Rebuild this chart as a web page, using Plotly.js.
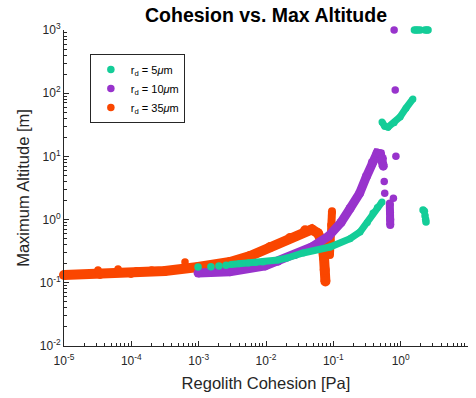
<!DOCTYPE html>
<html>
<head>
<meta charset="utf-8">
<script src="https://cdn.plot.ly/plotly-3.0.1.min.js"></script>
<style>html,body{margin:0;padding:0;background:#fff;}#chart{width:476px;height:398px;}</style>
</head>
<body>
<div id="chart"></div>
<script>
// ---- data ----
const seriesNames = ['r<sub>d</sub> = 5<i>μ</i>m', 'r<sub>d</sub> = 10<i>μ</i>m', 'r<sub>d</sub> = 35<i>μ</i>m'];
const xTickVals = [1e-5, 1e-4, 1e-3, 1e-2, 1e-1, 1, 10];
const xTickText = ['10<sup>-5</sup>', '10<sup>-4</sup>', '10<sup>-3</sup>', '10<sup>-2</sup>', '10<sup>-1</sup>', '10<sup>0</sup>', '10<sup>1</sup>'];
const yTickVals = [1e-2, 1e-1, 1, 10, 100, 1000];
const yTickText = ['10<sup>-2</sup>', '10<sup>-1</sup>', '10<sup>0</sup>', '10<sup>1</sup>', '10<sup>2</sup>', '10<sup>3</sup>'];

// r_d = 5 um : main curve
const g5_x = [0.0030, 0.0040, 0.0055, 0.0070, 0.0090, 0.0151, 0.0206, 0.0355, 0.0893, 0.177, 0.249, 0.32, 0.388, 0.45, 0.528];
const g5_y = [0.195, 0.200, 0.205, 0.209, 0.213, 0.230, 0.247, 0.296, 0.368, 0.50, 0.637, 0.90, 1.27, 1.55, 1.90];
// r_d = 5 um : upper branch
const g5b_x = [0.528, 0.58, 0.65, 0.80, 0.98, 1.2, 1.52];
const g5b_y = [35, 30, 29, 34, 42, 58, 81];
// r_d = 5 um : scattered points
const g5s_x = [0.00098, 0.00152, 0.0020, 0.00255, 1.6, 1.7, 1.8, 1.95, 2.3, 2.45, 2.55, 2.15, 2.25, 2.3, 2.35, 2.38];
const g5s_y = [0.178, 0.180, 0.185, 0.190, 1000, 1000, 1000, 1000, 1000, 1000, 1000, 1.42, 1.35, 1.15, 1.0, 0.92];

// r_d = 10 um : main curve
const p10_x = [0.00098, 0.0029, 0.0097, 0.0151, 0.0270, 0.0480, 0.0855, 0.130, 0.177, 0.245, 0.31, 0.38, 0.446, 0.50, 0.535, 0.552];
const p10_y = [0.143, 0.150, 0.185, 0.220, 0.280, 0.368, 0.55, 0.90, 1.50, 2.60, 4.8, 8.0, 11.3, 11.0, 9.3, 7.0];
// r_d = 10 um : vertical cluster
const p10b_x = [0.69, 0.695, 0.70, 0.70];
const p10b_y = [1.80, 1.30, 1.00, 0.82];
// r_d = 10 um : scattered points
const p10s_x = [0.57, 0.58, 0.78, 0.85, 0.83, 0.80];
const p10s_y = [4.0, 2.6, 2.17, 10.1, 112, 1000];

// r_d = 35 um : main curve
const o35_x = [1e-5, 3.43e-5, 9.9e-5, 3.16e-4, 9.8e-4, 0.00292, 0.00578, 0.0115, 0.0227, 0.0381, 0.048, 0.059, 0.068, 0.0728, 0.0745, 0.0763];
const o35_y = [0.133, 0.138, 0.143, 0.154, 0.178, 0.213, 0.265, 0.368, 0.51, 0.68, 0.70, 0.61, 0.44, 0.247, 0.16, 0.105];
// r_d = 35 um : upper streak
const o35b_x = [0.0955, 0.093, 0.0911, 0.089];
const o35b_y = [1.35, 0.82, 0.46, 0.275];
// r_d = 35 um : scattered points
const o35s_x = [3.2e-5, 6.35e-5, 6.27e-4, 2.0e-4, 1.2e-4];
const o35s_y = [0.160, 0.165, 0.213, 0.16, 0.155];

const colors = ['#14CD98', '#9833CC', '#FA4600'];

// minor tick positions (2..9 per decade)
function minorTicks(lo, hi) {
  const v = [];
  for (let e = lo; e < hi; e++) for (let m = 2; m <= 9; m++) v.push(m * Math.pow(10, e));
  return v;
}

function line(x, y, c, w) {
  return {x: x, y: y, type: 'scatter', mode: 'lines+markers', showlegend: false, hoverinfo: 'skip',
          line: {color: c, width: w}, marker: {color: c, size: w}, cliponaxis: false};
}
function dots(x, y, c, name, rank) {
  return {x: x, y: y, type: 'scatter', mode: 'markers', name: name, legendrank: rank,
          marker: {color: c, size: 7.5}, cliponaxis: false};
}

const data = [
  {x: [1e-5], y: [1e-2], xaxis: 'x2', yaxis: 'y2', type: 'scatter', mode: 'markers',
   marker: {opacity: 0}, showlegend: false, hoverinfo: 'skip'},
  line(o35_x, o35_y, colors[2], 10),
  line(o35b_x, o35b_y, colors[2], 8),
  dots(o35s_x, o35s_y, colors[2], seriesNames[2], 3),
  line(p10_x, p10_y, colors[1], 9),
  line(p10b_x, p10b_y, colors[1], 8),
  dots(p10s_x, p10s_y, colors[1], seriesNames[1], 2),
  line(g5_x, g5_y, colors[0], 7),
  line(g5b_x, g5b_y, colors[0], 7),
  dots(g5s_x, g5s_y, colors[0], seriesNames[0], 1)
];

const fontFam = 'Arial, "Liberation Sans", sans-serif';
const axisCol = '#262626';
const layout = {
  width: 476, height: 398,
  margin: {l: 64, r: 8, t: 30, b: 52},
  paper_bgcolor: '#fff', plot_bgcolor: 'rgba(0,0,0,0)',
  font: {family: fontFam, color: axisCol, size: 12},
  title: {text: '<b>Cohesion vs. Max Altitude</b>', x: 0.5, xref: 'paper', xanchor: 'center',
          y: 1 - 15/398, yref: 'container', yanchor: 'middle', font: {size: 19.5, color: '#000', family: fontFam}},
  xaxis: {type: 'log', range: [-5, 1], tickmode: 'array', tickvals: xTickVals, ticktext: xTickText,
          ticks: 'inside', ticklen: 5, tickcolor: axisCol, showline: true, linecolor: axisCol, linewidth: 1,
          showgrid: false, zeroline: false, mirror: false, ticklabelstandoff: 4,
          tickfont: {size: 12, color: axisCol},
          title: {text: 'Regolith Cohesion [Pa]', font: {size: 16.5, color: axisCol}, standoff: 10}},
  yaxis: {type: 'log', range: [-2, 3], tickmode: 'array', tickvals: yTickVals, ticktext: yTickText,
          ticks: 'inside', ticklen: 5, tickcolor: axisCol, showline: true, linecolor: axisCol, linewidth: 1,
          showgrid: false, zeroline: false, mirror: false,
          tickfont: {size: 12, color: axisCol},
          title: {text: 'Maximum Altitude [m]', font: {size: 16.5, color: axisCol}, standoff: 6}},
  xaxis2: {type: 'log', range: [-5, 1], overlaying: 'x', anchor: 'y', side: 'bottom',
           tickmode: 'array', tickvals: minorTicks(-5, 1), ticks: 'inside', ticklen: 3, tickcolor: axisCol,
           showticklabels: false, showline: false, showgrid: false, zeroline: false},
  yaxis2: {type: 'log', range: [-2, 3], overlaying: 'y', anchor: 'x', side: 'left',
           tickmode: 'array', tickvals: minorTicks(-2, 3), ticks: 'inside', ticklen: 3, tickcolor: axisCol,
           showticklabels: false, showline: false, showgrid: false, zeroline: false},
  legend: {x: 0.064, y: 0.924, xanchor: 'left', yanchor: 'top', bgcolor: '#fff',
           bordercolor: '#262626', borderwidth: 1, font: {size: 11, color: '#000'},
           tracegroupgap: 0, itemsizing: 'trace'},
  showlegend: true
};

Plotly.newPlot('chart', data, layout, {displayModeBar: false, staticPlot: true});
</script>
</body>
</html>
